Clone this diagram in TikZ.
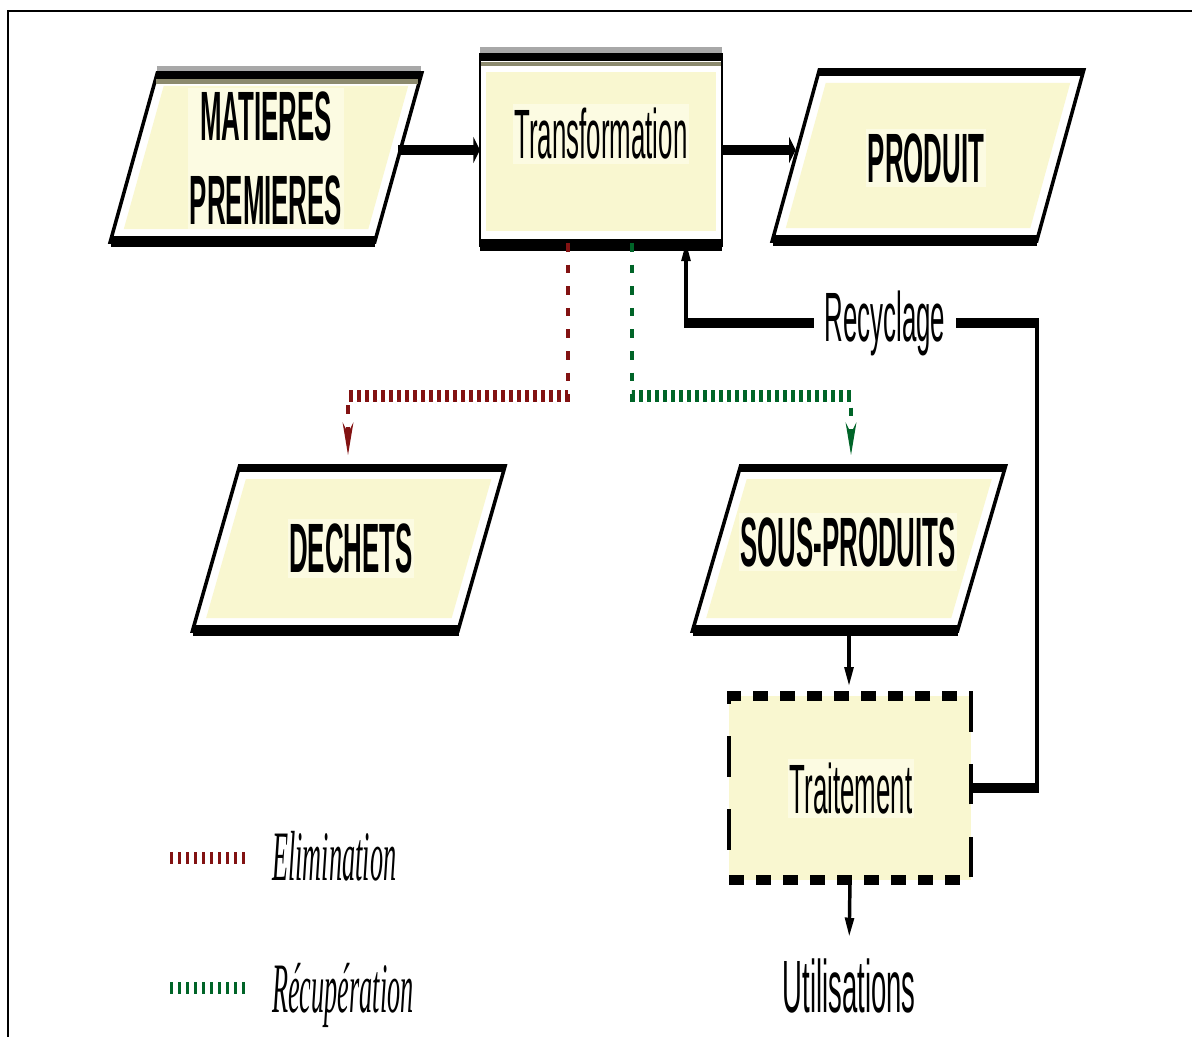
\documentclass[tikz,border=0pt]{standalone}
\usepackage{fontspec}
\usepackage{graphicx}
\usetikzlibrary{calc,arrows.meta}

\newfontfamily\labelsans{Liberation Sans}
\newfontfamily\legendserif{Liberation Serif}

\definecolor{boxfill}{RGB}{249,247,208}
\definecolor{halo}{RGB}{252,251,226}
\definecolor{shadegray}{RGB}{168,168,168}
\definecolor{oliveshade}{RGB}{140,138,110}
\definecolor{elimred}{RGB}{130,18,18}
\definecolor{recupgreen}{RGB}{0,100,40}

\tikzset{
  geom/.style={rectangle, inner sep=0pt, outer sep=0pt},
  outline/.style={draw=black, line width=2.2pt},
  topshade/.style={draw=shadegray, line width=1.4pt},
  innershade/.style={draw=oliveshade, line width=1.2pt},
  boxtext/.style={font=\labelsans\bfseries\fontsize{19.4pt}{23.3pt}\selectfont,
    fill=halo, inner sep=1.2pt, align=center},
  plaintext/.style={font=\labelsans\fontsize{19.4pt}{23.3pt}\selectfont, inner sep=1.2pt},
  legendtext/.style={font=\legendserif\itshape\fontsize{19.7pt}{23pt}\selectfont, inner sep=0pt},
  flow/.style={draw=black, line width=2.6pt},
  flowarrow/.style={flow, -{Triangle[length=5pt,width=7pt]}},
  elimline/.style={draw=elimred, line width=3.2pt, dash pattern=on 2.4pt off 3.6pt},
  recupline/.style={draw=recupgreen, line width=3.2pt, dash pattern=on 2.4pt off 3.6pt},
  frameline/.style={draw=black, line width=2.2pt},
}

% slanted data box: name, centre, side length, height, half slant
\newcommand\slantbox[5]{%
  \node[geom, minimum width={#3*0.75pt}, minimum height={#4*0.27778pt}] (#1) at (#2) {};
  \coordinate (#1-tl) at ($(#1.north west)+(#5,0)$);
  \coordinate (#1-tr) at ($(#1.north east)+(#5,0)$);
  \coordinate (#1-br) at ($(#1.south east)+(-#5,0)$);
  \coordinate (#1-bl) at ($(#1.south west)+(-#5,0)$);
  \fill[white] (#1-tl) -- (#1-tr) -- (#1-br) -- (#1-bl) -- cycle;
  \fill[boxfill] ($(#1-tl)+({10-22*#5/#4},11)$) -- ($(#1-tr)+({-10-22*#5/#4},11)$)
    -- ($(#1-br)+({-10+22*#5/#4},-11)$) -- ($(#1-bl)+({10+22*#5/#4},-11)$) -- cycle;
  \draw[outline] (#1-tl) -- (#1-tr) -- (#1-br) -- (#1-bl) -- cycle;
  \draw[outline] ($(#1-bl)+(0,3)$) -- ($(#1-br)+(0,3)$);
}

\begin{document}
\begin{tikzpicture}[x=0.75pt,y=-0.75pt]
\useasboundingbox (0,0) rectangle (1192,1037);
\draw[frameline] (8,1045) -- (8,11) -- (1200,11);

\begin{scope}[transform canvas={yscale=2.7}, y=-0.27778pt]

  % raw materials
  \slantbox{mp}{266,157.5}{264.5}{165}{23}
  \draw[topshade] ($(mp-tl)+(0,-6.5)$) -- ($(mp-tr)+(0,-6.5)$);
  \draw[innershade] ($(mp-tl)+(-1,6.5)$) -- ($(mp-tr)+(-3,6.5)$);
  \node[boxtext] (mp-text) at (266,158.5) {MATIERES\\PREMIERES};

  % transformation step
  \node[geom, minimum width={242*0.75pt}, minimum height={186*0.27778pt}] (trans) at (601,150) {};
  \fill[white] (trans.north west) rectangle (trans.south east);
  \fill[boxfill] ($(trans.north west)+(6,15)$) rectangle ($(trans.south east)+(-6,-12)$);
  \draw[topshade] ($(trans.north west)+(0,-7)$) -- ($(trans.north east)+(0,-7)$);
  \draw[innershade] ($(trans.north west)+(0,7)$) -- ($(trans.north east)+(0,7)$);
  \draw[outline] (trans.north west) rectangle (trans.south east);
  \draw[outline] ($(trans.south west)+(0,4)$) -- ($(trans.south east)+(0,4)$);
  \node[plaintext, fill=halo] (trans-text) at (601,134) {Transformation};

  % product
  \slantbox{pr}{928,155.5}{264.5}{167}{23}
  \node[boxtext] (pr-text) at (926,158) {PRODUIT};

  % waste
  \slantbox{de}{348.75,548.5}{265.5}{161}{23}
  \node[boxtext] (de-text) at (351,548.5) {DECHETS};

  % by-products
  \slantbox{sp}{849,548.5}{265}{161}{23.5}
  \node[boxtext] (sp-text) at (848,542) {SOUS-PRODUITS};

  % treatment
  \node[geom, fill=boxfill, draw=black, line width=3pt, dash pattern=on 11.25pt off 9pt,
    minimum width={242*0.75pt}, minimum height={184*0.27778pt}] (trait) at (850,788) {};
  \node[plaintext, fill=halo] (trait-text) at (851,788.5) {Traitement};

  \node[plaintext, font=\labelsans\fontsize{20.6pt}{24pt}\selectfont] (util) at (849,986) {Utilisations};
  \node[plaintext, inner xsep=8pt] (recy) at (885,323) {Recyclage};

  % main flow
  \draw[flowarrow] (mp.east |- trans.west) -- (trans.west);
  \draw[flowarrow] (trans.east) -- (pr.west |- trans.east);

  % elimination and recovery
  \coordinate (e1) at (568,396);
  \coordinate (e2) at (348,396);
  \coordinate (g1) at (632,396);
  \coordinate (g2) at (851,396);
  \draw[elimline, -{Stealth[length=9pt,width=8pt]}, shorten >=3.6pt]
    (trans.south -| e1) -- (e1) -- (e2) -- (de.north -| e2);
  \draw[recupline, -{Stealth[length=9pt,width=8pt]}, shorten >=3.6pt]
    (trans.south -| g1) -- (g1) -- (g2) -- (sp.north -| g2);

  % by-products to treatment and uses
  \draw[flowarrow, shorten >=3pt] (sp.south) -- (sp.south |- trait.north);
  \draw[flowarrow, shorten >=5pt] (trait.south) -- (util.north);

  % recycling loop
  \coordinate (rcA) at (1037,323);
  \coordinate (rcB) at (686,323);
  \draw[flow] (trait.east) -| (rcA) -- (recy.east);
  \draw[flowarrow] (recy.west) -- (rcB) -- (trans.south -| rcB);

  % legend
  \coordinate (le1) at (170,858);
  \coordinate (le2) at (245,858);
  \coordinate (lr1) at (170,988);
  \coordinate (lr2) at (245,988);
  \draw[elimline] (le1) -- (le2);
  \draw[recupline] (lr1) -- (lr2);
  \node[legendtext, anchor=base west] (leg-e) at (272,880) {Elimination};
  \node[legendtext, anchor=base west] (leg-r) at (272,1012) {Récupération};

\end{scope}
\end{tikzpicture}
\end{document}
